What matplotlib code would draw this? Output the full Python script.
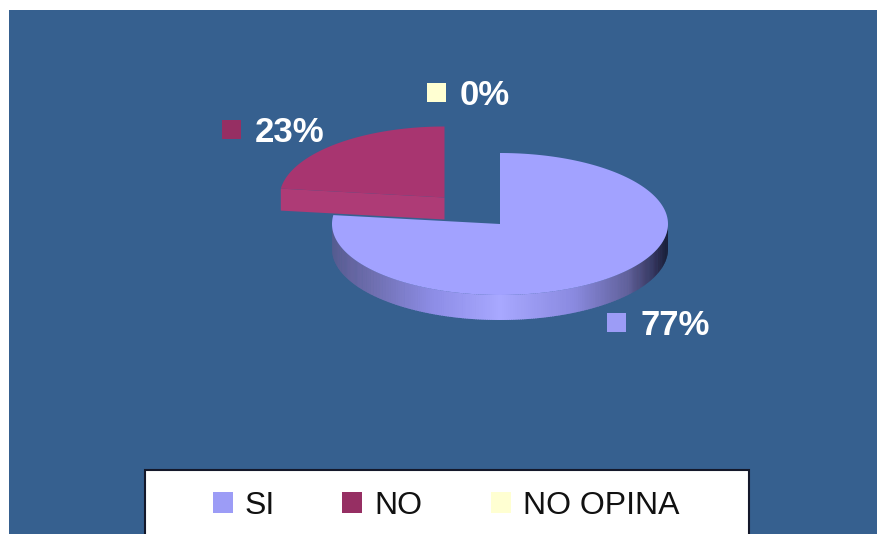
import numpy as np
import matplotlib
matplotlib.use("Agg")
import matplotlib.pyplot as plt
from matplotlib.colors import LinearSegmentedColormap
from matplotlib.patches import Polygon, Rectangle

categories = ["SI", "NO", "NO OPINA"]
values = [77, 23, 0]
pct_labels = ["77%", "23%", "0%"]
colors = ["#a2a2ff", "#a83570", "#ffffcc"]
legend_colors = ["#9c9cf6", "#962f63", "#ffffd2"]

plt.rcParams["font.family"] = ["Liberation Sans", "DejaVu Sans"]

W, H = 877, 534
BG = "#36608f"

fig = plt.figure(figsize=(W / 100, H / 100), dpi=100, facecolor="white")
ax = fig.add_axes([0, 0, 1, 1])
ax.set_xlim(0, W)
ax.set_ylim(H, 0)
ax.axis("off")
ax.add_patch(Rectangle((9, 10), W - 9, H - 10, fc=BG, ec="none"))

RX, RY, DEPTH = 168, 71, 24
# where each slice's centre sits once exploded
centres = [(500, 224), (444.5, 197.5), (444.5, 197.5)]
radii = [RX, 165, 165]
label_pos = [(607, 313), (222, 120), (427, 83)]
side_cmap = LinearSegmentedColormap.from_list(
    "side",
    [(0, "#5c5c92"), (0.12, "#6f6fb0"), (0.3, "#8d8de6"), (0.5, "#a8a8ff"),
     (0.72, "#8a8ae0"), (0.88, "#62629c"), (0.96, "#34345c"), (1, "#14142a")],
)


def pt(c, th, rx=RX):
    th = np.radians(th)
    return np.column_stack((c[0] + rx * np.sin(th), c[1] - RY * np.cos(th)))


angles = np.concatenate(([0], np.cumsum(values))) * 3.6

# exploded slice goes first so the big one sits on top of it
for i in [1, 2, 0]:
    if values[i] == 0:
        continue
    c = centres[i]
    a0, a1 = angles[i], angles[i + 1]
    th = np.linspace(a0, a1, 200)
    arc = pt(c, th, radii[i])
    if i == 0:
        # rim, one thin strip per step
        ths = np.linspace(max(a0, 90), min(a1, 270), 241)
        for t0, t1 in zip(ths[:-1], ths[1:]):
            p = pt(c, np.array([t0, t1 + 0.3]))
            q = p[::-1] + [0, DEPTH + 1]
            col = side_cmap(0.5 + 0.5 * np.sin(np.radians((t0 + t1) / 2)))
            ax.add_patch(Polygon(np.vstack((p, q)), fc=col, ec="none"))
    else:
        # cut face towards the viewer
        p = np.vstack((pt(c, np.array([a0]), radii[i]), [c]))
        q = p[::-1] + [0, DEPTH - 2]
        ax.add_patch(Polygon(np.vstack((p, q)), fc="#ae3b76", ec="none"))
    ax.add_patch(Polygon(np.vstack(([c], arc)), fc=colors[i], ec="none"))

for i, (x, y) in enumerate(label_pos):
    ax.add_patch(Rectangle((x, y), 19, 19, fc=legend_colors[i], ec="none"))
    ax.text(x + 33, y + 22, pct_labels[i], color="white", fontsize=25,
            fontweight="bold", va="baseline", ha="left")

# legend box runs off the bottom of the picture
ax.add_patch(Rectangle((145, 470), 604, 80, fc="white", ec="#14182a", lw=1.5))
leg_x = [213, 342, 491]
for x, name, col in zip(leg_x, categories, legend_colors):
    ax.add_patch(Rectangle((x, 492), 20, 21, fc=col, ec="none"))
    ax.text(x + 32, 514, name, color="#111111", fontsize=23, va="baseline", ha="left")

fig.savefig("out.png", dpi=100, facecolor="white")
